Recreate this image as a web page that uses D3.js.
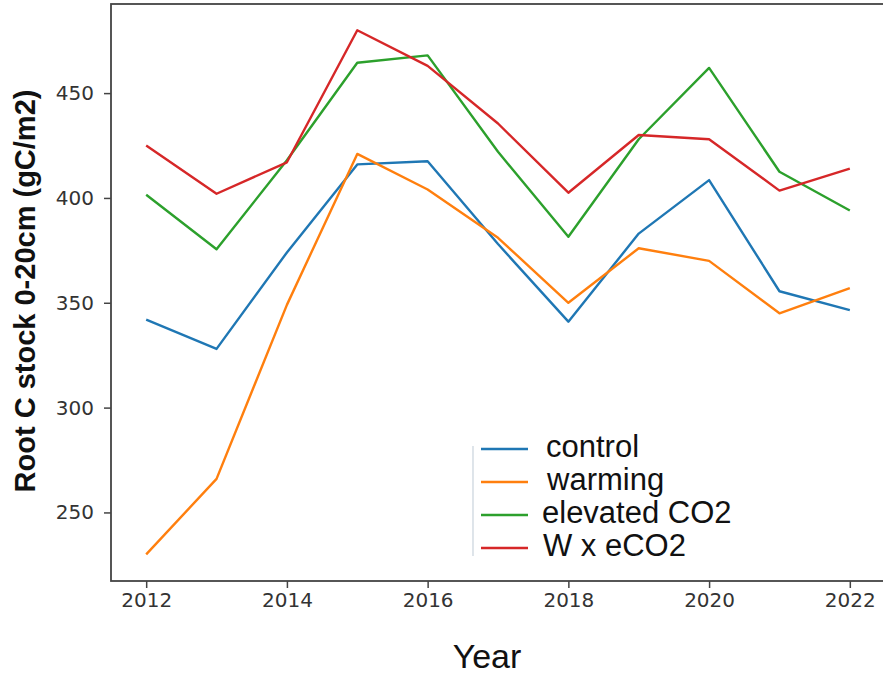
<!DOCTYPE html>
<html>
<head>
<meta charset="utf-8">
<script src="https://cdn.jsdelivr.net/npm/d3@7"></script>
<style>
  body { margin: 0; background: #fff; }
  svg { display: block; }
</style>
</head>
<body>
<div id="chart"><svg></svg></div>
<script>
// data
const years = [2012, 2013, 2014, 2015, 2016, 2017, 2018, 2019, 2020, 2021, 2022];
const control  = [342, 328, 374, 416, 417.5, 378, 341, 383, 408.5, 355.5, 346.5];
const warming  = [230, 266, 349, 421, 404, 381, 350, 376, 370, 345, 357];
const elevated = [401.5, 375.5, 418, 464.5, 468, 422, 381.5, 428, 462, 412.5, 394];
const wxeco2   = [425, 402, 417, 480, 463, 435.5, 402.5, 430, 428, 403.5, 414];
const seriesNames = ["control", "warming", "elevated CO2", "W x eCO2"];
const yTicks = [250, 300, 350, 400, 450];
const xTicks = [2012, 2014, 2016, 2018, 2020, 2022];

const W = 883, H = 678;
const svg = d3.select("#chart svg")
    .attr("width", W)
    .attr("height", H);

// Scales (matplotlib style 5% padding)
const x = d3.scaleLinear()
    .domain([2011.5, 2022.5])
    .range([111, 885]);

const y = d3.scaleLinear()
    .domain([217.3, 492.5])
    .range([581, 4]);

const color = d3.scaleOrdinal()
    .domain(seriesNames)
    .range(["#1f77b4", "#ff7f0e", "#2ca02c", "#d62728"]);

const series = [control, warming, elevated, wxeco2].map((vals, i) => ({
    name: seriesNames[i],
    values: vals.map((v, j) => ({year: years[j], value: v}))
}));

// Frame
svg.append("rect")
    .attr("x", x(2011.5))
    .attr("y", y(492.5))
    .attr("width", x(2022.5) - x(2011.5))
    .attr("height", y(217.3) - y(492.5))
    .attr("fill", "none")
    .attr("stroke", "#444")
    .attr("stroke-width", 1.8);

// Lines
const line = d3.line()
    .x(d => x(d.year))
    .y(d => y(d.value));

svg.selectAll(".series")
    .data(series)
    .join("path")
    .attr("class", "series")
    .attr("fill", "none")
    .attr("stroke", d => color(d.name))
    .attr("stroke-width", 2.4)
    .attr("stroke-linejoin", "round")
    .attr("d", d => line(d.values));

// Axes
const xAxis = svg.append("g")
    .attr("transform", `translate(0,${y(217.3)})`)
    .call(d3.axisBottom(x).tickValues(xTicks).tickFormat(d3.format("d")).tickSize(7).tickPadding(5));

const yAxis = svg.append("g")
    .attr("transform", `translate(${x(2011.5)},0)`)
    .call(d3.axisLeft(y).tickValues(yTicks).tickSize(7).tickPadding(10));

[xAxis, yAxis].forEach(g => {
    g.select(".domain").remove();
    g.selectAll(".tick line").attr("stroke", "#444").attr("stroke-width", 1.5);
    g.selectAll(".tick text")
        .attr("fill", "#333")
        .style("font-family", "DejaVu Sans")
        .style("font-size", "20px");
});

// Axis labels
svg.append("text")
    .attr("x", 487)
    .attr("y", 668)
    .attr("text-anchor", "middle")
    .style("font-family", "Liberation Sans, Arial, sans-serif")
    .style("font-size", "34px")
    .attr("fill", "#111")
    .text("Year");

svg.append("text")
    .attr("transform", "translate(35,291) rotate(-90)")
    .attr("text-anchor", "middle")
    .style("font-family", "Liberation Sans, Arial, sans-serif")
    .style("font-size", "29px")
    .style("font-weight", "bold")
    .attr("fill", "#111")
    .text("Root C stock 0-20cm (gC/m2)");

// Legend
const legend = svg.append("g");

legend.append("line")
    .attr("x1", 473).attr("x2", 473)
    .attr("y1", 446).attr("y2", 556)
    .attr("stroke", "#c9d3dc")
    .attr("stroke-width", 1.2);

const legendY = [449, 482, 515, 548];
const legendTextX = [546, 547, 542, 543];

const item = legend.selectAll(".item")
    .data(seriesNames)
    .join("g")
    .attr("class", "item");

item.append("line")
    .attr("x1", 481).attr("x2", 528)
    .attr("y1", (d, i) => legendY[i])
    .attr("y2", (d, i) => legendY[i])
    .attr("stroke", d => color(d))
    .attr("stroke-width", 2.4);

item.append("text")
    .attr("x", (d, i) => legendTextX[i])
    .attr("y", (d, i) => legendY[i] + 8)
    .style("font-family", "Liberation Sans, Arial, sans-serif")
    .style("font-size", "31px")
    .attr("fill", "#111")
    .text(d => d);
</script>
</body>
</html>
